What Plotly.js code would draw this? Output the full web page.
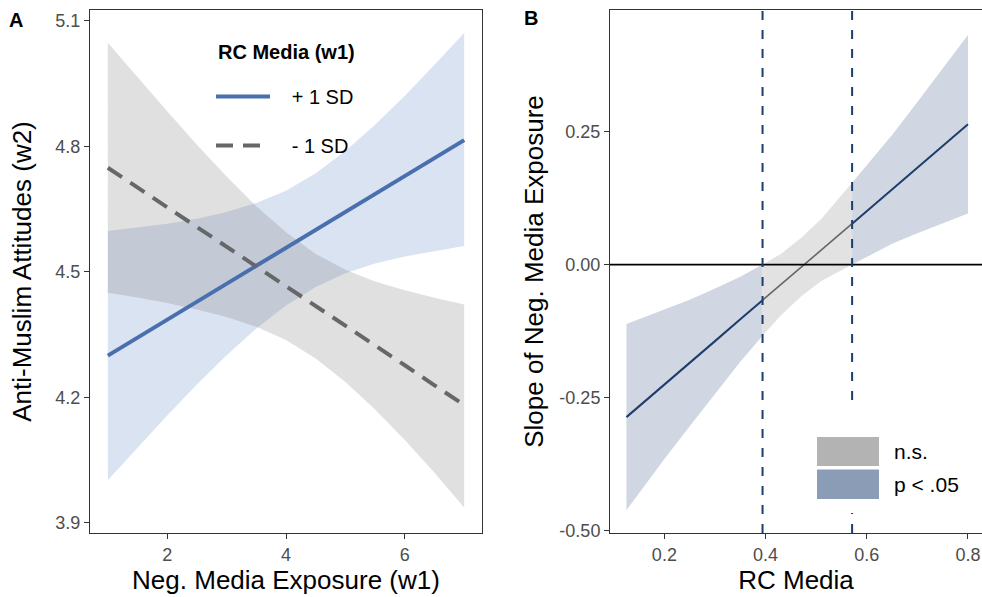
<!DOCTYPE html>
<html><head><meta charset="utf-8">
<script src="https://cdn.plot.ly/plotly-3.0.1.min.js"></script>
<style>html,body{margin:0;padding:0;background:#fff}#chart{width:982px;height:597px}</style>
</head><body><div id="chart"></div>
<script>
// Panel A: simple slopes
const exposure = [1, 1.5, 2, 2.5, 3, 3.5, 4, 4.5, 5, 5.5, 6, 6.5, 7];
const plusLine  = [4.300, 4.343, 4.386, 4.429, 4.472, 4.515, 4.557, 4.600, 4.643, 4.686, 4.729, 4.772, 4.815];
const plusUpper = [4.598, 4.606, 4.615, 4.627, 4.643, 4.665, 4.694, 4.736, 4.789, 4.852, 4.921, 4.995, 5.071];
const plusLower = [4.002, 4.080, 4.157, 4.231, 4.301, 4.365, 4.420, 4.464, 4.497, 4.520, 4.537, 4.549, 4.562];
const minusLine  = [4.749, 4.702, 4.655, 4.607, 4.560, 4.513, 4.466, 4.418, 4.371, 4.324, 4.277, 4.229, 4.182];
const minusUpper = [5.048, 4.965, 4.884, 4.804, 4.728, 4.657, 4.595, 4.543, 4.505, 4.477, 4.456, 4.438, 4.422];
const minusLower = [4.450, 4.439, 4.426, 4.410, 4.392, 4.369, 4.337, 4.293, 4.237, 4.171, 4.098, 4.020, 3.937];
const seriesNames = ["+ 1 SD", "- 1 SD"];
const legendTitleA = "RC Media (w1)";
const xTicksA = [2, 4, 6];
const yTicksA = [3.9, 4.2, 4.5, 4.8, 5.1];

// Panel B: Johnson-Neyman plot
const rcMedia    = [0.125, 0.2, 0.25, 0.3, 0.35, 0.394, 0.43, 0.47, 0.51, 0.571, 0.65, 0.7, 0.75, 0.8];
const slope      = [-0.287, -0.225, -0.185, -0.144, -0.103, -0.067, -0.038, -0.005, 0.027, 0.077, 0.142, 0.182, 0.223, 0.264];
const slopeUpper = [-0.112, -0.084, -0.066, -0.045, -0.023, 0.000, 0.020, 0.050, 0.086, 0.154, 0.244, 0.306, 0.369, 0.432];
const slopeLower = [-0.462, -0.366, -0.304, -0.243, -0.183, -0.134, -0.096, -0.060, -0.031, 0.000, 0.039, 0.059, 0.078, 0.096];
const jnBounds = [0.394, 0.571];
const xTicksB = [0.2, 0.4, 0.6, 0.8];
const yTicksB = [-0.5, -0.25, 0, 0.25];
const yTickTextB = ["-0.50", "-0.25", "0.00", "0.25"];
const legendB = ["n.s.", "p < .05"];

const FONT = "Liberation Sans, Arial, sans-serif";
const NAVY = "#1d3d6c";
const NBSP = "\u00a0\u00a0\u00a0";

function band(xs, up, lo, color, xa, ya) {
  return {x: xs.concat(xs.slice().reverse()), y: up.concat(lo.slice().reverse()),
    type: "scatter", mode: "lines", fill: "toself", fillcolor: color,
    line: {width: 0, color: "rgba(0,0,0,0)"}, hoverinfo: "skip", showlegend: false, xaxis: xa, yaxis: ya};
}
function pick(arr, lo, hi) { return arr.filter((v, i) => rcMedia[i] >= lo - 1e-9 && rcMedia[i] <= hi + 1e-9); }
function seg(lo, hi) {
  return {x: pick(rcMedia, lo, hi), y: pick(slope, lo, hi), up: pick(slopeUpper, lo, hi), lw: pick(slopeLower, lo, hi)};
}
const sLow = seg(-1, jnBounds[0]), sMid = seg(jnBounds[0], jnBounds[1]), sHigh = seg(jnBounds[1], 9);

const traces = [
  band(exposure, plusUpper, plusLower, "rgba(72,115,185,0.2)", "x", "y"),
  band(exposure, minusUpper, minusLower, "rgba(110,110,110,0.21)", "x", "y"),
  {x: exposure, y: plusLine, type: "scatter", mode: "lines", name: NBSP + seriesNames[0], legendgroup: "p",
   line: {color: "#4a6fae", width: 4}, xaxis: "x", yaxis: "y"},
  {x: exposure, y: minusLine, type: "scatter", mode: "lines", name: NBSP + seriesNames[1], legendgroup: "m",
   line: {color: "#65676b", width: 4, dash: "17px,10px"}, xaxis: "x", yaxis: "y"},
  band(sLow.x, sLow.up, sLow.lw, "#d0d7e2", "x2", "y2"),
  band(sMid.x, sMid.up, sMid.lw, "#e2e2e2", "x2", "y2"),
  band(sHigh.x, sHigh.up, sHigh.lw, "#d0d7e2", "x2", "y2"),
  {x: sLow.x, y: sLow.y, type: "scatter", mode: "lines", line: {color: NAVY, width: 2}, showlegend: false, xaxis: "x2", yaxis: "y2"},
  {x: sMid.x, y: sMid.y, type: "scatter", mode: "lines", line: {color: "#666666", width: 1.6}, showlegend: false, xaxis: "x2", yaxis: "y2"},
  {x: sHigh.x, y: sHigh.y, type: "scatter", mode: "lines", line: {color: NAVY, width: 2}, showlegend: false, xaxis: "x2", yaxis: "y2"}
];

const W = 982, H = 597;
const px = v => v / W, py = v => 1 - v / H;
const tickFont = {family: FONT, size: 18, color: "#4d4d4d"};
const titleFont = {family: FONT, size: 26, color: "#000"};
const axBase = {ticks: "outside", ticklen: 5, tickwidth: 1, tickcolor: "#333", showline: true, linecolor: "#333",
  linewidth: 1, showgrid: false, zeroline: false, tickfont: tickFont, automargin: false, fixedrange: true};

const shapes = [
  {type: "line", xref: "x2 domain", x0: 0, x1: 1, yref: "y2", y0: 0, y1: 0, line: {color: "#000", width: 1.6}, layer: "above"},
  ...jnBounds.map(v => ({type: "line", xref: "x2", x0: v, x1: v, yref: "y2 domain", y0: 0, y1: 1,
     line: {color: NAVY, width: 2, dash: "9px,10px"}, layer: "above"})),
  {type: "rect", xref: "paper", yref: "paper", x0: px(806), x1: px(982), y0: py(513), y1: py(409),
   fillcolor: "#fff", line: {width: 0}, layer: "above"},
  {type: "rect", xref: "paper", yref: "paper", x0: px(817), x1: px(879), y0: py(466), y1: py(437),
   fillcolor: "#b3b3b3", line: {width: 0}, layer: "above"},
  {type: "rect", xref: "paper", yref: "paper", x0: px(817), x1: px(879), y0: py(499), y1: py(469.5),
   fillcolor: "#8b9cb6", line: {width: 0}, layer: "above"}
];

const annotations = [
  {text: "<b>A</b>", xref: "paper", yref: "paper", x: px(16), y: py(20), xanchor: "center", yanchor: "middle",
   showarrow: false, font: {family: FONT, size: 20, color: "#000"}},
  {text: "<b>B</b>", xref: "paper", yref: "paper", x: px(531), y: py(18), xanchor: "center", yanchor: "middle",
   showarrow: false, font: {family: FONT, size: 20, color: "#000"}},
  {text: "<b>" + legendTitleA + "</b>", xref: "paper", yref: "paper", x: px(286), y: py(52), xanchor: "center", yanchor: "middle",
   showarrow: false, font: {family: FONT, size: 20, color: "#000"}},
  {text: legendB[0], xref: "paper", yref: "paper", x: px(892), y: py(451), xanchor: "left", yanchor: "middle",
   showarrow: false, font: {family: FONT, size: 21, color: "#000"}},
  {text: legendB[1], xref: "paper", yref: "paper", x: px(892), y: py(484), xanchor: "left", yanchor: "middle",
   showarrow: false, font: {family: FONT, size: 21, color: "#000"}}
];

const yDom = [py(533), py(10)];
const layout = {
  width: W, height: H, margin: {l: 0, r: 0, t: 0, b: 0}, paper_bgcolor: "#fff", plot_bgcolor: "rgba(0,0,0,0)",
  font: {family: FONT},
  xaxis: Object.assign({}, axBase, {domain: [px(90), px(482)], range: [0.7, 7.3], tickvals: xTicksA, mirror: true, anchor: "y",
    title: {text: "Neg. Media Exposure (w1)", font: titleFont, standoff: 5}}),
  yaxis: Object.assign({}, axBase, {domain: yDom, range: [3.876, 5.126], tickvals: yTicksA, tickformat: ".1f", mirror: true, anchor: "x",
    title: {text: "Anti-Muslim Attitudes (w2)", font: titleFont, standoff: 16}}),
  xaxis2: Object.assign({}, axBase, {domain: [px(610), 1], range: [0.0925, 0.8277], tickvals: xTicksB, tickformat: ".1f", mirror: true, anchor: "y2",
    ticklabeloverflow: "allow", title: {text: "RC Media", font: titleFont, standoff: 5}}),
  yaxis2: Object.assign({}, axBase, {domain: yDom, range: [-0.505, 0.479], tickvals: yTicksB, ticktext: yTickTextB, mirror: false, anchor: "x2",
    title: {text: "Slope of Neg. Media Exposure", font: titleFont, standoff: 8}}),
  showlegend: true,
  legend: {x: px(211), y: py(77), xanchor: "left", yanchor: "top", bgcolor: "rgba(0,0,0,0)", traceorder: "grouped",
    tracegroupgap: 20, itemwidth: 54, font: {family: FONT, size: 20, color: "#000"}},
  shapes: shapes, annotations: annotations
};
Plotly.newPlot("chart", traces, layout, {staticPlot: true, displayModeBar: false});
</script></body></html>
